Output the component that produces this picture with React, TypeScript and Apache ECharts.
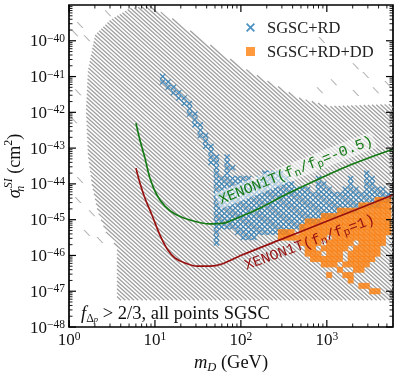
import React, { useEffect, useRef } from "react";
import * as echarts from "echarts";

const SERIF = "'Liberation Serif', 'DejaVu Serif', serif";
const MONO = "'Liberation Mono', 'DejaVu Sans Mono', monospace";
const GREEN = "#137a13";
const DARKRED = "#981010";
const BLUE = "#1f77b4";
const ORANGE = "#ff7f0e";
const HATCH = "#a0a0a0";

// axis extents, in decades (log10 of mD in GeV, log10 of sigma in cm^2)
const X_LOG_MIN = 0;
const X_LOG_MAX = 3.77;
const Y_LOG_MIN = -48;
const Y_LOG_MAX = -39;

const xTickExponents = [0, 1, 2, 3];
const yTickExponents = [-48, -47, -46, -45, -44, -43, -42, -41, -40];

// XENON1T limits, [log10 mD, log10 sigma]
const xenonNeg05 = [
  [0.779, -42.3], [0.826, -42.78], [0.884, -43.28], [0.942, -43.84], [1.023, -44.31],
  [1.116, -44.62], [1.233, -44.84], [1.407, -45.01], [1.64, -45.12], [1.814, -45.09],
  [2.012, -44.9], [2.244, -44.65], [2.512, -44.31], [3.244, -43.5], [3.767, -43.03],
];
const xenonOne = [
  [0.779, -43.56], [0.826, -43.98], [0.884, -44.4], [0.965, -44.87], [1.058, -45.43],
  [1.151, -45.85], [1.233, -46.07], [1.349, -46.21], [1.488, -46.3], [1.64, -46.3],
  [1.779, -46.24], [2.012, -45.99], [2.512, -45.51], [3.035, -45.01], [3.767, -44.31],
];

// grey (all points SGSC) region outline, [log10 mD, log10 sigma]
const greyRegion = [
  [0.302, -39.84], [0.477, -39.42], [0.709, -39.09], [0.942, -39.03], [1.233, -39.42],
  [1.616, -40.07], [2.012, -40.74], [2.512, -41.38], [2.686, -41.6], [3.035, -41.83],
  [3.767, -41.77], [3.767, -47.25], [0.558, -47.25], [0.558, -45.77], [0.43, -45.35],
  [0.337, -44.79], [0.267, -44.03], [0.221, -43.2], [0.198, -41.94], [0.221, -40.82],
];
// isolated grey cells outside the outline
const greyDashes = [
  [2.942, -39.98], [3.337, -40.71], [3.453, -40.96], [3.081, -41.16], [2.919, -41.38],
  [3.337, -41.46], [3.57, -41.38], [3.709, -41.21], [0.453, -39.23], [0.128, -39.56],
  [0.07, -39.79], [0.209, -39.93], [0.105, -41.44], [0.058, -42.22], [0.128, -43.89],
  [0.105, -44.45], [0.267, -44.82], [0.209, -45.37], [0.36, -45.57],
];

// scan grid (log10 units) and occupied runs [row, firstCol, lastCol]
const GRID_X0 = 1.09;
const GRID_DX = 0.0625;
const GRID_Y0 = -41.0;
const GRID_DY = 0.15;
const blueSpans = [
  [0, 0, 0], [1, 0, 1], [2, 1, 2], [3, 2, 3], [4, 3, 4], [5, 4, 5], [6, 5, 5], [7, 5, 6],
  [8, 6, 6], [9, 6, 7], [10, 7, 7], [11, 7, 8], [12, 8, 8], [13, 8, 9], [14, 9, 9],
  [15, 9, 10], [15, 12, 12], [16, 9, 10], [16, 12, 12], [17, 10, 10], [17, 12, 13],
  [18, 10, 10], [18, 12, 12], [18, 19, 22], [18, 38, 38],
  [19, 10, 16], [19, 18, 23], [19, 29, 29], [19, 35, 35], [19, 38, 39],
  [20, 10, 24], [20, 29, 30], [20, 35, 35], [20, 38, 39],
  [21, 10, 27], [21, 29, 31], [21, 34, 36], [21, 38, 41],
  [22, 10, 42], [23, 10, 42], [24, 10, 40], [25, 10, 36], [26, 10, 32], [27, 10, 29],
  [28, 10, 26], [29, 10, 10], [29, 14, 23], [30, 10, 10], [30, 15, 17], [31, 10, 10],
];
const orangeSpans = [
  [23, 40, 42], [24, 37, 42], [25, 33, 42], [26, 30, 42], [27, 27, 42], [28, 26, 42],
  [29, 22, 24], [29, 26, 42], [30, 22, 25], [30, 26, 30], [30, 32, 41],
  [31, 26, 29], [31, 31, 35], [31, 37, 41], [32, 27, 28], [32, 30, 34], [32, 36, 40],
  [33, 27, 29], [33, 31, 33], [33, 35, 40], [34, 28, 33], [34, 35, 39],
  [35, 30, 32], [35, 34, 38], [36, 33, 33], [36, 36, 37], [37, 31, 31], [37, 34, 35],
  [38, 35, 35], [39, 37, 38], [40, 39, 40],
];

const legendNames = ["SGSC+RD", "SGSC+RD+DD"];
const labelNeg05 = { at: [2.64, -43.62], text: "{a|XENON1T(f}{s|n}{a|/f}{s|p}{a|=-0.5)}" };
const labelOne = { at: [2.8, -45.64], text: "{a|XENON1T(f}{s|n}{a|/f}{s|p}{a|=1)}" };

const X_PATH = "path://M0,1.4L1.4,0L5,3.6L8.6,0L10,1.4L6.4,5L10,8.6L8.6,10L5,6.4L1.4,10L0,8.6L3.6,5Z";
const DASH_PATH = "path://M0,0L2,0L10,8L8,8Z";

const expandSpans = (spans: number[][]) => {
  const out: number[][] = [];
  spans.forEach(([r, c0, c1]) => {
    for (let c = c0; c <= c1; c++) out.push([GRID_X0 + c * GRID_DX, GRID_Y0 - r * GRID_DY]);
  });
  return out;
};

// hatch style
const HATCH_ANGLE = 42;
const HATCH_STEP = 2.9;
const HATCH_WIDTH = 1.3;

const tickRich = {
  b: { fontFamily: SERIF, fontSize: 17, lineHeight: 18, color: "#111" },
  s: { fontFamily: SERIF, fontSize: 11.5, lineHeight: 11.5, verticalAlign: "top", color: "#111" },
};

const isInt = (v: number) => Math.abs(v - Math.round(v)) < 1e-6;

export default function App() {
  const ref = useRef<HTMLDivElement>(null);
  useEffect(() => {
    const chart = echarts.init(ref.current!, null, { renderer: "svg" });

    const xMinor: number[] = [];
    xTickExponents.forEach((e) => {
      for (let k = 2; k <= 9; k++) if (Math.log10(k) + e <= X_LOG_MAX) xMinor.push(Math.log10(k) + e);
    });
    const yMinor: number[] = [];
    yTickExponents.forEach((e) => {
      for (let k = 2; k <= 9; k++) if (Math.log10(k) + e <= Y_LOG_MAX) yMinor.push(Math.log10(k) + e);
    });

    const lineEl = (x1: number, y1: number, x2: number, y2: number, w: number, c = "#000") => ({
      type: "line",
      shape: { x1, y1, x2, y2 },
      style: { stroke: c, lineWidth: w },
    });

    // hatch lines clipped to a pixel polygon
    const hatchPolygon = (pts: number[][]) => {
      const th = (HATCH_ANGLE * Math.PI) / 180;
      const ux = Math.cos(th), uy = Math.sin(th);
      const nx = -uy, ny = ux;
      const ds = pts.map((p) => nx * p[0] + ny * p[1]);
      const dmin = Math.min(...ds), dmax = Math.max(...ds);
      const out: any[] = [];
      for (let d = Math.ceil(dmin / HATCH_STEP) * HATCH_STEP + 0.01; d <= dmax; d += HATCH_STEP) {
        const ts: number[] = [];
        for (let i = 0; i < pts.length; i++) {
          const a = pts[i], b = pts[(i + 1) % pts.length];
          const da = nx * a[0] + ny * a[1] - d, db = nx * b[0] + ny * b[1] - d;
          if (da < 0 !== db < 0) {
            const t = da / (da - db);
            const px = a[0] + t * (b[0] - a[0]), py = a[1] + t * (b[1] - a[1]);
            ts.push(ux * px + uy * py);
          }
        }
        ts.sort((p, q) => p - q);
        for (let k = 0; k + 1 < ts.length; k += 2) {
          out.push(lineEl(d * nx + ts[k] * ux, d * ny + ts[k] * uy, d * nx + ts[k + 1] * ux, d * ny + ts[k + 1] * uy, HATCH_WIDTH, HATCH));
        }
      }
      return out;
    };

    const curveLabel = (lab: { at: number[]; text: string }, color: string, rot: number, bg: string) => ({
      symbol: "circle",
      symbolSize: 0,
      label: {
        show: true,
        position: "inside",
        rotate: rot,
        formatter: lab.text,
        backgroundColor: bg,
        padding: [0, 2, 0, 2],
        rich: {
          a: { fontFamily: MONO, fontSize: 14.8, lineHeight: 17, color },
          s: { fontFamily: MONO, fontSize: 11, lineHeight: 11, verticalAlign: "bottom", color },
        },
      },
      data: [{ coord: lab.at }],
    });

    const option: any = {
      animation: false,
      grid: {
        left: 69, top: 5, width: 324, height: 322, show: true, borderColor: "#000", borderWidth: 1.7,
        backgroundColor: "#fff", containLabel: false, outerBoundsMode: "none",
      },
      legend: {
        orient: "vertical",
        left: 241,
        top: 14,
        padding: 5,
        itemWidth: 9,
        itemHeight: 9,
        itemGap: 7,
        selectedMode: false,
        data: [
          { name: legendNames[0], icon: X_PATH },
          { name: legendNames[1], icon: "rect" },
        ],
        textStyle: { fontFamily: SERIF, fontSize: 16.5, color: "#222", padding: [0, 0, 0, 7] },
      },
      xAxis: {
        type: "value",
        min: X_LOG_MIN,
        max: X_LOG_MAX,
        interval: 1,
        axisLine: { show: false },
        axisTick: { show: false },
        splitLine: { show: false },
        axisLabel: {
          margin: 3,
          showMaxLabel: false,
          formatter: (v: number) => (isInt(v) ? `{b|10}{s|${Math.round(v)}}` : ""),
          rich: tickRich,
        },
        name: "{i|m}{sub|D}{r| (GeV)}",
        nameLocation: "middle",
        nameGap: 21,
        nameTextStyle: {
          rich: {
            i: { fontFamily: SERIF, fontStyle: "italic", fontSize: 18.5, lineHeight: 23, color: "#111" },
            sub: { fontFamily: SERIF, fontStyle: "italic", fontSize: 12.5, lineHeight: 12.5, verticalAlign: "bottom", color: "#111" },
            r: { fontFamily: SERIF, fontSize: 18.5, lineHeight: 23, color: "#111" },
          },
        },
      },
      yAxis: {
        type: "value",
        min: Y_LOG_MIN,
        max: Y_LOG_MAX,
        interval: 1,
        axisLine: { show: false },
        axisTick: { show: false },
        splitLine: { show: false },
        axisLabel: {
          margin: 4,
          formatter: (v: number) => (isInt(v) && v <= -40 ? `{b|10}{s|\u2212${-Math.round(v)}}` : ""),
          rich: tickRich,
        },
        name: "{i|\u03c3}{sub|n}{sup|SI}{r| (cm}{sup2|2}{r|)}",
        nameLocation: "middle",
        nameGap: 43,
        nameMoveOverlap: false,
        nameRotate: 90,
        nameTextStyle: {
          rich: {
            i: { fontFamily: SERIF, fontStyle: "italic", fontSize: 18, lineHeight: 24, color: "#111" },
            sub: { fontFamily: SERIF, fontStyle: "italic", fontSize: 12, lineHeight: 12, verticalAlign: "bottom", width: 1, color: "#111" },
            sup: { fontFamily: SERIF, fontStyle: "italic", fontSize: 12, lineHeight: 12, verticalAlign: "top", color: "#111" },
            sup2: { fontFamily: SERIF, fontSize: 12, lineHeight: 12, verticalAlign: "top", color: "#111" },
            r: { fontFamily: SERIF, fontSize: 18, lineHeight: 24, color: "#111" },
          },
        },
      },
      graphic: [
        {
          type: "text",
          left: 81,
          top: 303,
          z: 10,
          style: {
            text: "{f|f}{d|\u0394}{p|p}{t| > 2/3, all points SGSC}",
            rich: {
              f: { fontFamily: SERIF, fontStyle: "italic", fontSize: 18.5, lineHeight: 22, fill: "#111" },
              d: { fontFamily: SERIF, fontSize: 12, lineHeight: 12, verticalAlign: "bottom", fill: "#111" },
              p: { fontFamily: SERIF, fontStyle: "italic", fontSize: 8.5, lineHeight: 8.5, verticalAlign: "bottom", fill: "#111" },
              t: { fontFamily: SERIF, fontSize: 18.5, lineHeight: 22, fill: "#111" },
            },
          },
        },
      ],
      series: [
        {
          type: "custom",
          name: "grey",
          z: 1,
          silent: true,
          data: [greyRegion[0]],
          renderItem: (params: any, api: any) => {
            if (params.dataIndex !== 0) return null;
            const pts = greyRegion.map((p) => api.coord(p));
            return { type: "group", children: hatchPolygon(pts) };
          },
        },
        {
          type: "scatter",
          name: "greyDash",
          z: 1,
          silent: true,
          symbol: DASH_PATH,
          symbolSize: [7, 6],
          itemStyle: { color: HATCH },
          data: greyDashes,
        },
        {
          type: "scatter",
          name: legendNames[0],
          z: 3,
          silent: true,
          symbol: X_PATH,
          symbolSize: 6,
          itemStyle: { color: BLUE },
          data: expandSpans(blueSpans),
        },
        {
          type: "scatter",
          name: legendNames[1],
          z: 4,
          silent: true,
          symbol: "rect",
          symbolSize: 6,
          itemStyle: { color: ORANGE },
          data: expandSpans(orangeSpans),
        },
        {
          type: "line",
          name: "xenonNeg05",
          z: 5,
          smooth: 0.3,
          showSymbol: false,
          symbol: "none",
          silent: true,
          lineStyle: { color: GREEN, width: 1.7 },
          data: xenonNeg05,
          markPoint: curveLabel(labelNeg05, GREEN, 21.5, "rgba(255,255,255,0.55)"),
        },
        {
          type: "line",
          name: "xenonOne",
          z: 5,
          smooth: 0.3,
          showSymbol: false,
          symbol: "none",
          silent: true,
          lineStyle: { color: DARKRED, width: 1.7 },
          data: xenonOne,
          markPoint: curveLabel(labelOne, DARKRED, 20, "rgba(255,255,255,0)"),
        },
        {
          type: "custom",
          name: "ticks",
          z: 8,
          clip: false,
          silent: true,
          data: [[X_LOG_MIN, Y_LOG_MIN]],
          renderItem: (params: any, api: any) => {
            if (params.dataIndex !== 0) return null;
            const cs = params.coordSys;
            const top = cs.y, bot = cs.y + cs.height, left = cs.x, right = cs.x + cs.width;
            const ch: any[] = [];
            const addX = (v: number, len: number, w: number) => {
              const x = api.coord([v, Y_LOG_MIN])[0];
              ch.push(lineEl(x, bot, x, bot - len, w));
              ch.push(lineEl(x, top, x, top + len, w));
            };
            const addY = (v: number, len: number, w: number) => {
              const y = api.coord([X_LOG_MIN, v])[1];
              ch.push(lineEl(left, y, left + len, y, w));
              ch.push(lineEl(right, y, right - len, y, w));
            };
            xTickExponents.forEach((e) => addX(e, 7, 1.2));
            xMinor.forEach((v) => addX(v, 3.5, 0.9));
            yTickExponents.forEach((e) => addY(e, 7, 1.2));
            yMinor.forEach((v) => addY(v, 3.5, 0.9));
            return { type: "group", children: ch };
          },
        },
      ],
    };
    chart.setOption(option);
    return () => chart.dispose();
  }, []);
  return <div ref={ref} style={{ position: "fixed", left: 0, top: 0, width: 399, height: 376 }} />;
}
